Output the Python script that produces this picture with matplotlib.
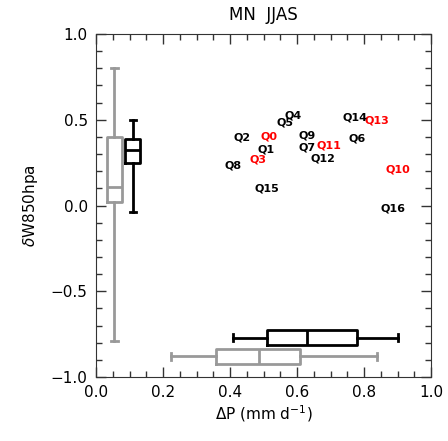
import matplotlib
matplotlib.use('Agg')
import matplotlib.pyplot as plt
from matplotlib.ticker import MultipleLocator

# scatter labels (dP, dW850)
labels = ['Q0', 'Q1', 'Q2', 'Q3', 'Q4', 'Q5', 'Q6', 'Q7', 'Q8', 'Q9',
          'Q10', 'Q11', 'Q12', 'Q13', 'Q14', 'Q15', 'Q16']
dp = [0.516, 0.507, 0.435, 0.485, 0.589, 0.564, 0.778, 0.631, 0.410, 0.629,
      0.902, 0.694, 0.677, 0.838, 0.773, 0.510, 0.888]
dw = [0.405, 0.328, 0.399, 0.266, 0.524, 0.482, 0.390, 0.341, 0.235, 0.410,
      0.212, 0.347, 0.276, 0.497, 0.511, 0.097, -0.015]
red_labels = ['Q0', 'Q3', 'Q10', 'Q11', 'Q13']

# box stats: whislo, q1, med, q3, whishi
w_gray = [-0.79, 0.02, 0.106, 0.40, 0.80]
w_black = [-0.035, 0.245, 0.325, 0.39, 0.50]
p_gray = [0.225, 0.357, 0.487, 0.61, 0.84]
p_black = [0.41, 0.51, 0.63, 0.78, 0.90]

GRAY = '#999999'


def stats(v):
    return [dict(whislo=v[0], q1=v[1], med=v[2], q3=v[3], whishi=v[4], fliers=[])]


def draw_box(ax, v, pos, color, vert, width, capw):
    props = dict(color=color, linewidth=2)
    ax.bxp(stats(v), positions=[pos], widths=width, vert=vert,
           showfliers=False, boxprops=props, medianprops=props,
           whiskerprops=props, capprops=props, capwidths=capw,
           manage_ticks=False)


fig = plt.figure(figsize=(4.48, 4.41), dpi=100)
ax = fig.add_axes([96 / 448, 1 - 377 / 441, 335 / 448, 343 / 441])

draw_box(ax, w_gray, 0.055, GRAY, True, 0.045, 0.02)
draw_box(ax, w_black, 0.11, 'black', True, 0.045, 0.02)
draw_box(ax, p_black, -0.77, 'black', False, 0.083, 0.045)
draw_box(ax, p_gray, -0.88, GRAY, False, 0.083, 0.045)

for lab, x, y in zip(labels, dp, dw):
    c = 'red' if lab in red_labels else 'black'
    ax.text(x, y, lab, color=c, fontsize=8, fontweight='bold',
            ha='center', va='center')

ax.set_xlim(0, 1.0)
ax.set_ylim(-1.0, 1.0)
ax.xaxis.set_major_locator(MultipleLocator(0.2))
ax.xaxis.set_minor_locator(MultipleLocator(0.05))
ax.yaxis.set_major_locator(MultipleLocator(0.5))
ax.yaxis.set_minor_locator(MultipleLocator(0.1))
ax.tick_params(which='both', direction='in', top=True, right=True,
               colors='#333333', labelcolor='black', labelsize=11, width=1)
ax.tick_params(which='major', length=7, pad=6)
ax.tick_params(which='minor', length=4)
for s in ax.spines.values():
    s.set_color('#333333')

ax.set_title('MN  JJAS', fontsize=12, pad=10)
ax.set_xlabel(r'$\Delta$P (mm d$^{-1}$)', fontsize=11, labelpad=2)
ax.set_ylabel(r'$\delta$W850hpa', fontsize=11, labelpad=8)

fig.savefig('out.png', dpi=100)
